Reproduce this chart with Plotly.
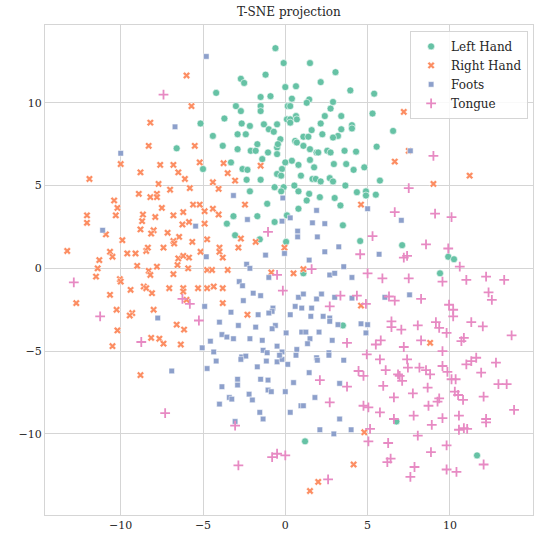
import plotly.graph_objects as go

classes = ["Left Hand", "Right Hand", "Foots", "Tongue"]
colors = ["#66c2a5", "#fc8d62", "#8da0cb", "#e78ac3"]

lh = [(-0.6,13.3),(-0.1,12.4),(-2.7,11.45),(-2.5,11.2),(-1.2,11.7),(0.0,10.95),(-4.2,10.6),(-1.5,10.35),(-0.9,10.4),(-3.0,9.8),(-1.5,9.8),(-2.7,9.5),(-1.5,9.5),(0.15,9.8),(-5.15,8.75),(-3.7,9.05),(-2.65,8.75),(-2.15,8.6),(-1.3,8.7),(-0.5,8.7),(0.1,9.0),(-1.0,8.4),(-0.7,8.25),(-4.4,8.0),(-2.9,8.1),(-2.4,8.1),(-0.3,7.8),(-6.6,7.25),(-3.8,7.4),(-2.9,7.2),(-1.7,7.5),(-2.1,7.1),(-1.8,7.1),(-1.05,7.0),(-0.5,7.3),(-0.45,7.5),(-0.5,6.9),(-1.4,6.6),(-3.3,6.4),(0.0,6.4),(-5.0,6.0),(-2.6,6.0),(-2.3,5.95),(-0.2,6.0),(-0.5,5.7),(-0.25,5.6),(-2.35,5.35),(-1.5,5.35),(-0.65,4.9),(-0.1,4.9),
      (1.5,12.4),(3.05,11.85),(2.15,11.25),(0.65,11.0),(3.95,10.75),(5.4,10.55),(0.4,10.25),(1.45,10.2),(1.3,10.0),(2.9,10.05),(0.3,9.8),(2.75,9.65),(5.3,9.35),(3.4,9.2),(2.4,9.2),(0.65,9.2),(0.7,9.0),(0.3,9.0),(0.3,8.8),(2.15,8.75),(4.05,8.65),(4.05,8.45),(1.6,8.35),(3.4,8.4),(6.55,8.3),(2.25,8.1),(1.1,7.95),(1.4,7.95),(3.2,8.0),(2.9,7.9),(0.6,7.7),(0.7,7.6),(1.1,7.4),(5.55,7.35),(1.5,7.2),(1.9,7.0),(2.0,7.0),(2.55,7.1),(2.75,7.0),(3.6,7.1),(4.3,7.05),(0.4,6.5),(0.8,6.25),(1.5,6.55),(1.75,6.1),(2.95,6.3),(3.7,6.3),(4.15,5.95),(4.8,6.1),(0.95,5.6),(1.65,5.4),(1.85,5.4),(2.15,5.25),(2.7,5.45),(2.9,5.25),(5.75,5.3),(3.65,5.0),(0.55,5.0),
      (-2.15,4.65),(-0.25,4.65),(-1.1,3.9),(-3.15,3.15),(-1.7,3.15),(0.1,3.2),(-3.55,2.7),(-0.65,2.8),(-3.05,2.0),(-1.55,1.75),(0.05,1.6),
      (0.8,4.65),(1.45,4.5),(1.3,4.1),(2.1,4.3),(3.0,4.25),(3.35,3.8),(4.35,4.6),(4.9,4.65),(4.9,4.4),(5.5,4.45),(0.8,3.6),(3.5,2.6),(4.55,1.65),(7.1,1.4),(1.1,-0.3),(3.5,-3.45),
      (9.9,0.7),(10.25,0.55),(9.4,-0.3),(6.75,-9.25),(1.2,-10.45),(11.65,-11.3)]

rh = [(-8.2,8.8),(-8.3,7.4),(-10.0,6.3),(-7.6,6.25),(-8.8,5.8),(-11.9,5.4),(-7.7,5.1),
      (-6.0,11.65),(-5.7,9.8),(-5.5,7.4),(-6.8,6.25),(-5.2,6.4),(-3.75,6.35),(-1.5,6.2),(-6.5,5.8),(-3.5,5.75),(-6.1,5.4),(-3.05,5.3),(-4.4,5.2),(-5.8,4.85),(-4.05,4.8),
      (7.2,9.45),(7.5,7.1),(6.65,6.45),(9.0,5.1),(11.2,5.6),
      (-8.9,4.5),(-8.2,4.3),(-7.8,4.5),(-7.8,4.3),(-10.4,4.1),(-10.2,3.65),(-10.3,3.2),(-12.05,3.2),(-12.05,2.75),(-8.65,3.25),(-7.9,3.1),(-7.5,3.65),(-8.7,2.85),(-8.8,2.35),(-8.0,2.3),(-8.15,2.1),(-10.9,2.05),(-9.9,1.7),(-13.25,1.05),(-10.65,1.0),(-10.5,0.7),(-9.6,0.9),(-9.1,0.9),(-8.45,1.05),(-8.35,1.25),(-7.4,1.25),(-11.3,0.5),(-11.4,0.0),(-9.0,0.15),(-8.3,-0.15),(-8.2,-0.4),(-7.8,0.1),(-11.5,-0.5),(-10.05,-0.65),(-10.0,-0.8),(-9.4,-1.3),(-8.6,-1.1),(-8.45,-1.2),(-8.1,-1.5),(-10.65,-1.6),(-12.7,-2.1),(-8.0,-2.5),(-10.25,-2.5),(-9.3,-2.7),(-9.45,-2.85),(-10.2,-3.75),(-8.15,-4.2),(-7.65,-4.25),(-7.4,-4.55),(-10.5,-4.7),
      (-7.0,4.75),(-5.6,3.85),(-5.2,3.85),(-4.9,3.45),(-4.4,3.6),(-4.05,3.25),(-2.45,3.85),(-6.8,3.2),(-6.2,3.4),(-6.25,2.65),(-5.85,2.8),(-4.9,2.7),(-7.15,2.15),(-6.45,1.9),(-2.7,1.8),(-4.75,1.75),(-1.8,1.6),(-6.8,1.65),(-6.75,1.5),(-5.65,1.6),(-4.0,1.25),(-4.0,1.0),(-2.85,1.25),(-0.05,1.25),(-5.15,1.0),(-6.5,0.6),(-6.2,0.75),(-5.85,0.65),(-3.8,0.65),(-6.55,0.2),(-5.9,0.0),(-4.75,-0.1),(-4.45,-0.1),(-3.5,-0.1),(-6.8,-0.35),(-0.85,-0.25),(-7.05,-1.2),(-6.2,-1.2),(-6.2,-1.4),(-5.3,-1.2),(-4.75,-1.2),(-4.35,-1.1),(-3.8,-1.2),(-6.0,-1.9),(-3.8,-2.1),(-2.3,-2.8),(-6.6,-3.4),(-6.15,-3.7),(-6.35,-4.6),
      (4.6,3.85),(0.5,-0.3),(1.1,-0.05),(4.6,-2.25),(8.8,-4.5),(-8.8,-6.45),(4.8,-9.9),(4.15,-11.85),(2.0,-12.9),(1.5,-13.45)]

foots = [(-10.0,6.95),(-4.8,12.8),(-6.7,8.55),(7.6,7.1),(-11.1,2.3),(-7.75,-3.0),
      (-3.15,4.4),(-0.15,4.25),(-2.3,2.95),(-0.2,2.85),(-5.45,2.55),(-1.2,0.8),(-0.05,0.9),(-4.8,0.7),(-2.35,0.25),(-2.15,0.0),(-1.0,-0.55),(-2.8,-0.8),(-2.6,-1.05),(-1.95,-1.5),(-1.5,-1.65),(-2.55,-1.95),(-4.9,-2.3),(-0.75,-2.4),(-0.8,-2.6),(-1.0,-2.7),(-3.3,-2.65),(-1.65,-2.8),(-4.0,-3.25),(-2.85,-3.45),(-1.8,-3.55),(-0.6,-3.45),(-0.8,-3.65),(0.05,-3.9),(-3.85,-4.0),(-3.55,-4.15),(-3.15,-4.25),(-2.15,-4.25),(-1.4,-4.35),(-4.55,-4.4),(-0.5,-4.7),(-5.05,-4.8),(-4.35,-5.05),(-1.35,-4.95),(-1.1,-5.1),(-0.2,-5.05),
      (1.9,3.5),(5.0,3.6),(0.3,3.05),(1.65,2.75),(2.4,2.7),(7.05,2.9),(0.75,2.25),(0.75,1.9),(1.95,1.9),(3.25,1.3),(2.4,1.0),(5.7,0.85),(1.45,0.5),(3.55,0.1),(2.7,-0.4),(3.0,-0.3),(4.05,-0.55),(0.8,-1.75),(1.1,-1.55),(1.9,-1.85),(2.2,-1.55),(3.0,-1.75),(4.05,-1.8),(0.6,-2.3),(1.0,-2.4),(1.6,-2.4),(0.3,-2.8),(1.55,-2.9),(2.3,-2.9),(2.7,-3.0),(2.7,-3.2),(3.2,-3.4),(4.6,-3.35),(5.0,-3.4),(1.0,-3.85),(1.25,-3.85),(2.05,-3.85),(4.9,-3.9),(1.5,-4.25),(1.35,-4.55),(2.85,-4.35),(0.7,-4.9),(2.65,-5.1),(7.55,-1.6),(6.05,-1.75),
      (-2.65,-5.35),(-2.4,-5.3),(-2.7,-5.5),(-4.2,-5.6),(-1.15,-5.6),(-0.5,-5.65),(-0.2,-5.5),(-0.35,-5.25),(0.15,-5.8),(-1.7,-5.95),(-6.9,-6.2),(-4.75,-6.05),(-2.9,-6.7),(-1.5,-6.7),(-1.05,-6.75),(-3.85,-7.15),(-2.9,-7.05),(-1.05,-7.35),(-0.85,-7.45),(0.0,-7.45),(-2.2,-7.6),(-3.4,-7.8),(-3.25,-7.9),(-2.0,-7.95),(-4.0,-8.2),(-1.55,-8.7),(-1.35,-9.1),(-3.05,-9.25),
      (0.65,-5.25),(1.9,-5.4),(1.95,-5.55),(2.65,-5.25),(3.55,-5.55),(1.45,-6.3),(0.5,-6.9),(3.3,-6.95),(1.8,-7.8),(0.95,-8.3),(1.1,-8.3),(0.3,-8.7),(3.3,-9.1),(2.1,-9.75),(2.95,-10.0),(4.0,-9.75)]

tongue = [(-7.4,10.5),(7.5,4.85),(9.0,6.8),(-12.85,-0.85),(-11.25,-2.9),(-8.75,-4.45),
      (-1.05,2.2),(-0.5,-0.4),(-0.15,-1.35),(-6.25,-1.85),(-5.8,-2.15),(-5.25,-3.15),
      (6.65,3.4),(5.3,1.95),(4.55,0.85),(7.2,0.65),(7.4,0.75),(1.6,-0.05),(5.0,-0.3),(5.9,-0.6),(7.5,-0.6),(3.35,-1.65),(4.35,-1.65),(6.3,-1.7),(6.65,-1.95),(2.7,-2.3),(4.9,-2.15),(6.45,-3.2),(6.45,-3.55),(7.05,-3.7),(5.8,-4.35),(5.5,-4.6),(3.75,-4.5),(7.2,-4.75),
      (9.1,3.3),(10.1,3.1),(8.55,1.45),(9.9,1.2),(10.6,0.1),(9.55,-0.8),(11.0,-0.7),(12.2,-0.5),(13.3,-0.7),(12.35,-1.45),(12.55,-1.9),(8.25,-1.85),(9.95,-2.2),(10.2,-2.5),(10.2,-2.9),(11.3,-3.25),(12.0,-3.5),(9.15,-3.25),(9.35,-3.6),(8.05,-3.45),(9.8,-3.9),(13.75,-4.05),(8.25,-4.35),(10.85,-4.2),(10.7,-4.4),(9.55,-5.0),
      (-7.3,-8.75),(-3.05,-9.5),(-2.85,-11.9),(-0.8,-11.4),(-0.5,-11.2),(0.0,-11.3),
      (4.95,-5.2),(5.75,-5.5),(7.4,-5.5),(7.45,-6.0),(6.1,-6.15),(4.45,-6.2),(4.75,-6.5),(6.85,-6.4),(6.95,-6.5),(7.1,-6.8),(2.1,-6.75),(3.75,-7.15),(5.95,-7.1),(6.6,-7.8),(2.7,-8.1),(4.75,-8.3),(5.05,-8.4),(5.75,-8.7),(6.6,-9.1),(5.15,-9.7),(5.05,-10.45),(6.25,-10.55),(6.4,-11.5),(6.2,-11.7),(2.6,-12.75),(7.6,-12.6),
      (8.15,-6.0),(8.55,-6.15),(8.8,-6.4),(9.55,-5.9),(9.85,-6.25),(11.0,-5.8),(11.3,-5.6),(11.6,-5.4),(12.8,-5.7),(11.9,-6.3),(10.1,-6.7),(10.35,-6.7),(12.95,-7.0),(13.45,-7.0),(8.65,-7.2),(7.75,-7.55),(10.3,-7.45),(10.5,-7.65),(12.05,-7.75),(9.35,-7.85),(9.25,-8.05),(10.8,-7.95),(8.7,-8.3),(7.8,-8.9),(9.55,-9.05),(10.55,-8.9),(12.2,-9.1),(12.2,-9.3),(13.9,-8.55),(8.9,-9.45),(10.55,-9.75),(10.85,-9.65),(11.05,-9.7),(8.05,-10.1),(9.8,-10.7),(8.85,-11.1),(7.85,-12.0),(9.8,-12.15),(10.4,-12.3),(12.05,-11.85)]

x_ticks = [-10, -5, 0, 5, 10, 15]
y_ticks = [-10, -5, 0, 5, 10]

series = [lh, rh, foots, tongue]

FONT = "DejaVu Serif"
fig = go.Figure()
markers = [
    dict(color=colors[0], symbol="circle", size=7, line=dict(color="white", width=0.6)),
    dict(color=colors[1], symbol="x", size=6.5, line=dict(color="white", width=0.5)),
    dict(color=colors[2], symbol="square", size=5.5, line=dict(color="white", width=0.5)),
    dict(color=colors[3], symbol="cross-thin", size=7, line=dict(color=colors[3], width=1.8)),
]
for name, pts, mk in zip(classes, series, markers):
    fig.add_trace(go.Scatter(
        x=[p[0] for p in pts], y=[p[1] for p in pts], mode="markers", name=name,
        marker=mk,
    ))

fig.update_layout(
    width=535, height=537,
    margin=dict(l=45, r=2, t=25, b=22),
    paper_bgcolor="white", plot_bgcolor="white",
    font=dict(family=FONT, size=11, color="#262626"),
    title=dict(text="T-SNE projection", x=0.54, xanchor="center", y=0.985, yanchor="top",
               font=dict(family=FONT, size=12, color="#262626")),
    legend=dict(x=0.99, y=0.988, xanchor="right", yanchor="top",
                bgcolor="rgba(255,255,255,0.85)", bordercolor="#d5d5d5", borderwidth=1,
                font=dict(family=FONT, size=12, color="#262626"),
                tracegroupgap=0),
    showlegend=True,
)
axis_common = dict(showgrid=True, gridcolor="#d5d5d5", gridwidth=1, zeroline=False,
                   showline=True, linecolor="#d5d5d5", linewidth=1, mirror=True,
                   ticks="", tickfont=dict(family=FONT, size=11, color="#262626"))
fig.update_xaxes(range=[-14.6, 15.05], tickvals=x_ticks, **axis_common)
fig.update_yaxes(range=[-14.9, 14.7], tickvals=y_ticks, **axis_common)

fig.write_html("out.html")
